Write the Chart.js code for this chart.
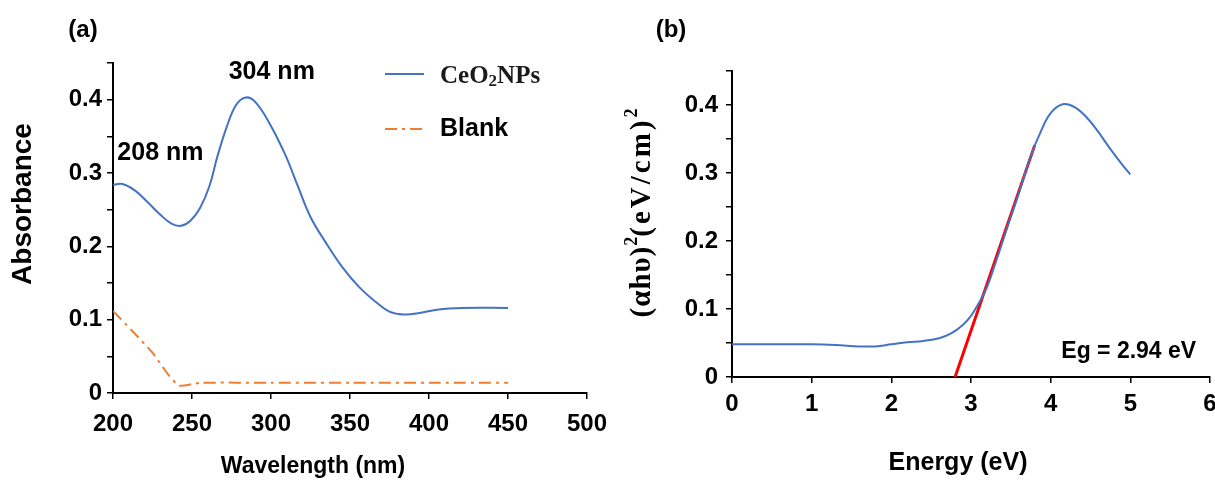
<!DOCTYPE html>
<html>
<head>
<meta charset="utf-8">
<script src="https://cdn.jsdelivr.net/npm/chart.js@4.4.0/dist/chart.umd.min.js"></script>
<style>
html, body { margin: 0; padding: 0; background: #fff; overflow: hidden; width: 1215px; height: 492px; }
canvas { position: absolute; top: 0; }
#chartA { left: 0; }
#chartB { left: 600px; }
</style>
</head>
<body>
<canvas id="chartA" width="640" height="492"></canvas>
<canvas id="chartB" width="640" height="492"></canvas>
<script>
// (a) UV-Vis spectrum
var wavelength = [200, 206, 214, 222, 230, 237, 243, 249, 255, 261, 266, 272, 278, 284, 290, 299, 309, 317, 325, 335, 345, 356, 367, 375, 384, 394, 406, 421, 450];
var ceo2Abs = [0.284, 0.285, 0.276, 0.26, 0.243, 0.231, 0.228, 0.235, 0.252, 0.282, 0.322, 0.363, 0.393, 0.403, 0.397, 0.368, 0.325, 0.282, 0.24, 0.204, 0.172, 0.144, 0.123, 0.111, 0.107, 0.109, 0.114, 0.116, 0.116];
var blankWavelength = [200, 212, 225, 235, 242, 250, 256, 300, 350, 400, 450];
var blankAbs = [0.112, 0.085, 0.055, 0.025, 0.01, 0.012, 0.014, 0.014, 0.014, 0.014, 0.014];
var absTickLabels = ['0', '0.1', '0.2', '0.3', '0.4'];
var wlTickLabels = ['200', '250', '300', '350', '400', '450', '500'];

// (b) Tauc plot
var energy = [0, 0.5, 1.0, 1.3, 1.6, 1.8, 2.0, 2.2, 2.4, 2.6, 2.75, 2.9, 3.0, 3.1, 3.2, 3.3, 3.45, 3.6, 3.75, 3.88, 4.0, 4.15, 4.3, 4.45, 4.6, 4.75, 4.9, 5.0];
var tauc = [0.048, 0.048, 0.048, 0.047, 0.045, 0.045, 0.048, 0.051, 0.053, 0.057, 0.064, 0.077, 0.09, 0.109, 0.132, 0.165, 0.218, 0.27, 0.325, 0.362, 0.388, 0.401, 0.397, 0.382, 0.36, 0.335, 0.312, 0.298];
var fitEnergy = [2.8, 3.8];
var fitTauc = [0, 0.341];
var energyTickLabels = ['0', '1', '2', '3', '4', '5', '6'];

var SANS = 'Liberation Sans, Arial, sans-serif';
var SERIF = 'Liberation Serif, Times New Roman, serif';

function pts(xs, ys) {
  return xs.map(function (x, i) { return { x: x, y: ys[i] }; });
}

function yLabel(value) {
  var i = Math.round(value * 10);
  return Math.abs(value * 10 - i) < 1e-6 ? absTickLabels[i] : '';
}

// draw a row of text pieces (for sub/superscripts), centred at x,y
function drawRuns(ctx, runs, x, y, angle) {
  ctx.save();
  ctx.translate(x, y);
  if (angle) ctx.rotate(angle);
  ctx.fillStyle = '#000';
  ctx.textBaseline = 'alphabetic';
  ctx.textAlign = 'left';
  var total = 0;
  runs.forEach(function (r) {
    ctx.font = r.font;
    ctx.letterSpacing = (r.ls || 0) + 'px';
    r.w = ctx.measureText(r.t).width;
    total += r.w;
  });
  var cx = -total / 2;
  runs.forEach(function (r) {
    ctx.font = r.font;
    ctx.letterSpacing = (r.ls || 0) + 'px';
    ctx.fillText(r.t, cx, r.dy || 0);
    cx += r.w;
  });
  ctx.restore();
}

function put(ctx, text, x, y, font, angle) {
  ctx.save();
  ctx.translate(x, y);
  if (angle) ctx.rotate(angle);
  ctx.font = font;
  ctx.fillStyle = '#000';
  ctx.textAlign = 'center';
  ctx.textBaseline = 'middle';
  ctx.fillText(text, 0, 0);
  ctx.restore();
}

function axisCommon() {
  return {
    grid: { display: true, drawOnChartArea: false, drawTicks: true, tickLength: 6, color: '#000', lineWidth: 1.5 },
    border: { display: true, color: '#000', width: 2 }
  };
}

var textA = {
  id: 'textA',
  afterDraw: function (chart) {
    var ctx = chart.ctx;
    var xs = chart.scales.x, ys = chart.scales.y;
    put(ctx, '(a)', 83, 30, 'bold 24px ' + SANS);
    put(ctx, '304 nm', xs.getPixelForValue(300.5), ys.getPixelForValue(0.437), 'bold 25px ' + SANS);
    put(ctx, '208 nm', xs.getPixelForValue(230), ys.getPixelForValue(0.327), 'bold 25px ' + SANS);
    put(ctx, 'Absorbance', 23, 204, 'bold 28px ' + SANS, -Math.PI / 2);
    put(ctx, 'Wavelength (nm)', 313, 467, 'bold 23px ' + SANS);

    // legend
    ctx.save();
    ctx.lineWidth = 2;
    ctx.strokeStyle = '#4472C4';
    ctx.beginPath(); ctx.moveTo(385, 74); ctx.lineTo(424, 74); ctx.stroke();
    ctx.strokeStyle = '#ED7D31';
    ctx.setLineDash([12, 5, 3, 5]);
    ctx.beginPath(); ctx.moveTo(385, 129); ctx.lineTo(424, 129); ctx.stroke();
    ctx.restore();
    ctx.save();
    ctx.fillStyle = '#1a1a1a';
    ctx.textBaseline = 'alphabetic';
    ctx.font = 'bold 25px ' + SERIF;
    var x = 440;
    ctx.fillText('CeO', x, 83); x += ctx.measureText('CeO').width;
    ctx.font = 'bold 17px ' + SERIF;
    ctx.fillText('2', x, 86); x += ctx.measureText('2').width;
    ctx.font = 'bold 25px ' + SERIF;
    ctx.fillText('NPs', x, 83);
    ctx.restore();
    ctx.save();
    ctx.font = 'bold 25px ' + SANS;
    ctx.fillStyle = '#000';
    ctx.textBaseline = 'middle';
    ctx.fillText('Blank', 440, 129);
    ctx.restore();
  }
};

var textB = {
  id: 'textB',
  afterDraw: function (chart) {
    var ctx = chart.ctx;
    var xs = chart.scales.x, ys = chart.scales.y;
    put(ctx, '(b)', 71, 30, 'bold 24px ' + SANS);
    put(ctx, 'Energy (eV)', 358, 463, 'bold 25px ' + SANS);
    put(ctx, 'Eg = 2.94 eV', xs.getPixelForValue(4.98), ys.getPixelForValue(0.037), 'bold 23px ' + SANS);
    drawRuns(ctx, [
      { t: '(\u03b1h\u03c5)', font: 'bold 29px ' + SERIF, ls: 1 },
      { t: '2', font: 'bold 18px ' + SERIF, dy: -13 },
      { t: '(eV/cm)', font: 'bold 29px ' + SERIF, ls: 3 },
      { t: '2', font: 'bold 18px ' + SERIF, dy: -13 }
    ], 50, 213, -Math.PI / 2);
  }
};

var tickFont = { family: SANS, size: 24, weight: 'bold' };

new Chart(document.getElementById('chartA'), {
  type: 'line',
  data: {
    datasets: [{
      label: 'CeO2NPs',
      data: pts(wavelength, ceo2Abs),
      borderColor: '#4472C4',
      borderWidth: 2,
      pointRadius: 0,
      tension: 0.4
    }, {
      label: 'Blank',
      data: pts(blankWavelength, blankAbs),
      borderColor: '#ED7D31',
      borderWidth: 2,
      borderDash: [12, 5, 3, 5],
      pointRadius: 0,
      tension: 0.2
    }]
  },
  options: {
    responsive: false,
    animation: false,
    layout: { padding: { left: 0, top: 63, right: 53, bottom: 0 } },
    plugins: { legend: { display: false }, tooltip: { enabled: false } },
    scales: {
      x: Object.assign(axisCommon(), {
        type: 'linear', min: 200, max: 500,
        ticks: { stepSize: 50, autoSkip: false, maxRotation: 0, padding: 11, color: '#000', font: tickFont,
          callback: function (v) { return wlTickLabels[Math.round((v - 200) / 50)]; } },
        afterFit: function (s) { s.height = 99; }
      }),
      y: Object.assign(axisCommon(), {
        min: 0, max: 0.45,
        ticks: { stepSize: 0.05, autoSkip: false, padding: 5, color: '#000', font: tickFont, callback: yLabel },
        afterFit: function (s) { s.width = 113; }
      })
    }
  },
  plugins: [textA]
});

new Chart(document.getElementById('chartB'), {
  type: 'line',
  data: {
    datasets: [{
      label: 'Tauc',
      data: pts(energy, tauc),
      borderColor: '#4472C4',
      borderWidth: 2,
      pointRadius: 0,
      tension: 0.4
    }, {
      label: 'Fit',
      data: pts(fitEnergy, fitTauc),
      borderColor: '#FF0000',
      borderWidth: 3,
      pointRadius: 0
    }]
  },
  options: {
    responsive: false,
    animation: false,
    layout: { padding: { left: 0, top: 71, right: 30, bottom: 0 } },
    plugins: { legend: { display: false }, tooltip: { enabled: false } },
    scales: {
      x: Object.assign(axisCommon(), {
        type: 'linear', min: 0, max: 6,
        ticks: { stepSize: 1, autoSkip: false, maxRotation: 0, padding: 7, color: '#000', font: tickFont,
          callback: function (v) { return energyTickLabels[Math.round(v)]; } },
        afterFit: function (s) { s.height = 115; }
      }),
      y: Object.assign(axisCommon(), {
        min: 0, max: 0.45,
        ticks: { stepSize: 0.05, autoSkip: false, padding: 8, color: '#000', font: tickFont, callback: yLabel },
        afterFit: function (s) { s.width = 132; }
      })
    }
  },
  plugins: [textB]
});
</script>
</body>
</html>
